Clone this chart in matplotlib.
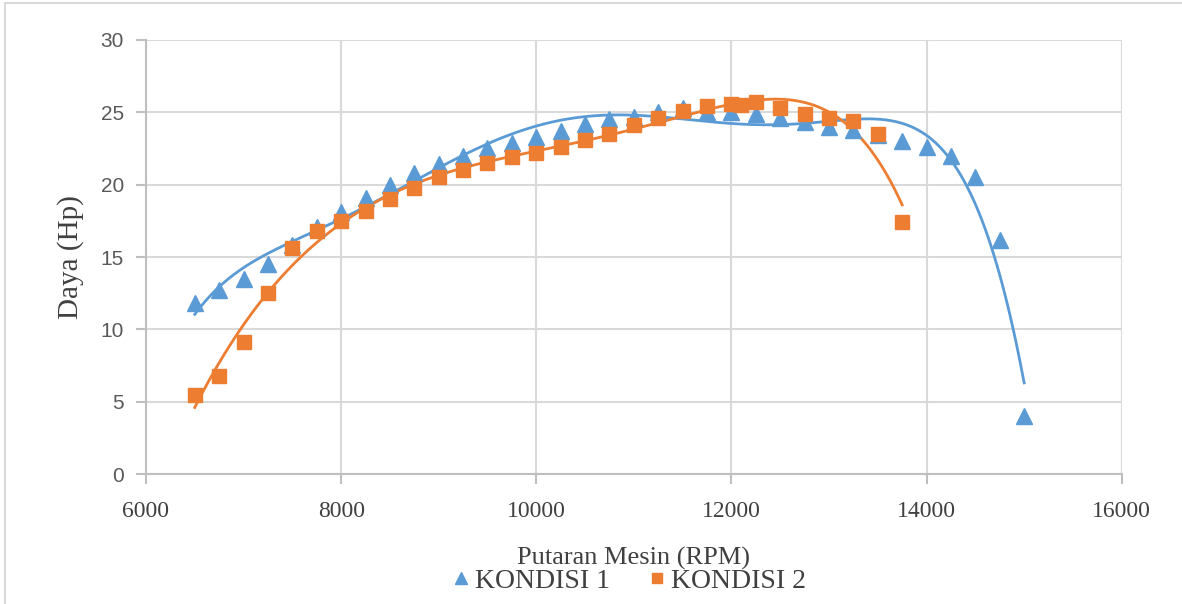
import numpy as np
import matplotlib.pyplot as plt
from matplotlib.patches import Rectangle

rpm1 = [6500, 6750, 7000, 7250, 7500, 7750, 8000, 8250, 8500, 8750, 9000, 9250,
        9500, 9750, 10000, 10250, 10500, 10750, 11000, 11250, 11500, 11750, 12000,
        12250, 12500, 12750, 13000, 13250, 13500, 13750, 14000, 14250, 14500,
        14750, 15000]
daya1 = [11.8, 12.7, 13.5, 14.5, 15.8, 17.1, 18.1, 19.1, 20.0, 20.8, 21.4, 22.0,
         22.5, 22.9, 23.3, 23.7, 24.2, 24.5, 24.7, 25.0, 25.3, 25.0, 25.0,
         24.9, 24.6, 24.3, 24.0, 23.8, 23.4, 23.0, 22.6, 22.0, 20.5,
         16.2, 4.0]

rpm2 = [6500, 6750, 7000, 7250, 7500, 7750, 8000, 8250, 8500, 8750, 9000, 9250,
        9500, 9750, 10000, 10250, 10500, 10750, 11000, 11250, 11500, 11750, 12000,
        12100, 12250, 12500, 12750, 13000, 13250, 13500, 13750]
daya2 = [5.5, 6.8, 9.1, 12.5, 15.6, 16.8, 17.5, 18.2, 19.0, 19.8, 20.5, 21.0,
         21.5, 21.9, 22.2, 22.6, 23.1, 23.5, 24.1, 24.6, 25.1, 25.4, 25.6,
         25.5, 25.7, 25.3, 24.9, 24.6, 24.4, 23.5, 17.4]

blue = '#5B9BD5'
orange = '#ED7D31'

fig = plt.figure(figsize=(11.82, 6.04), dpi=100)
ax = fig.add_axes([0.1235, 0.215, 0.8255, 0.719])

# polynomial trendlines (like Excel, order 6)
for xs, ys, c in [(rpm1, daya1, blue), (rpm2, daya2, orange)]:
    xs = np.array(xs, dtype=float)
    ys = np.array(ys, dtype=float)
    xm = xs.mean()
    sc = xs.std()
    p = np.polyfit((xs - xm) / sc, ys, 6)
    xx = np.linspace(xs.min(), xs.max(), 300)
    ax.plot(xx, np.polyval(p, (xx - xm) / sc), color=c, lw=2, zorder=3)

ax.plot(rpm1, daya1, '^', color=blue, ms=12, mec=blue, zorder=4, label='KONDISI 1')
ax.plot(rpm2, daya2, 's', color=orange, ms=10.5, mec=orange, zorder=4, label='KONDISI 2')

ax.set_xlim(6000, 16000)
ax.set_ylim(0, 30)
ax.set_xticks(np.arange(6000, 16001, 2000))
ax.set_yticks(np.arange(0, 31, 5))
ax.grid(True, color='#D9D9D9', lw=1.5)
ax.set_axisbelow(True)
for s in ['top', 'right']:
    ax.spines[s].set_visible(False)
for s in ['left', 'bottom']:
    ax.spines[s].set_color('#BFBFBF')
    ax.spines[s].set_linewidth(1.5)
ax.tick_params(axis='both', color='#BFBFBF', length=7, width=1.5)
ax.tick_params(axis='y', labelsize=15, labelcolor='#595959', pad=9)
ax.tick_params(axis='x', labelsize=17, labelcolor='#404040', pad=12)
for t in ax.get_yticklabels():
    t.set_fontfamily('Liberation Sans')
for t in ax.get_xticklabels():
    t.set_fontfamily('Liberation Serif')

ax.set_ylabel('Daya (Hp)', fontsize=21, family='Liberation Serif', color='#404040', labelpad=12)
ax.set_xlabel('Putaran Mesin (RPM)', fontsize=19, family='Liberation Serif', color='#404040', labelpad=18)

ax.legend(loc='center', bbox_to_anchor=(0.53, 0.038), bbox_transform=fig.transFigure,
          ncol=2, frameon=False, handletextpad=0.0, columnspacing=1.2, handlelength=1.0,
          markerscale=0.7, prop={'family': 'Liberation Serif', 'size': 20},
          labelcolor='#404040')

fig.patches.append(Rectangle((0.004, -0.01), 1.2, 1.005, transform=fig.transFigure,
                             fill=False, edgecolor='#D9D9D9', lw=1.5))

fig.savefig('out.png', dpi=100)
